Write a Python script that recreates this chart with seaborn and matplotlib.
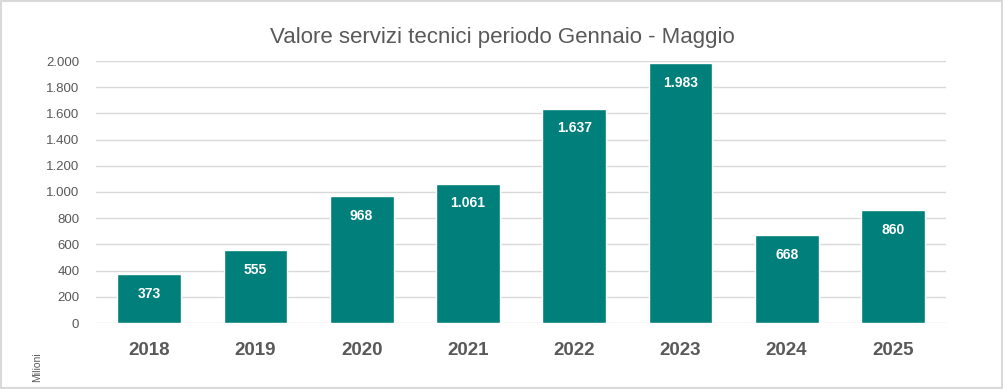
import matplotlib

matplotlib.use("Agg")

import matplotlib.pyplot as plt
import seaborn as sns
import pandas as pd
from matplotlib.patches import Rectangle
from matplotlib.ticker import FuncFormatter

years = ["2018", "2019", "2020", "2021", "2022", "2023", "2024", "2025"]
values = [373, 555, 968, 1061, 1637, 1983, 668, 860]
y_ticks = [0, 200, 400, 600, 800, 1000, 1200, 1400, 1600, 1800, 2000]

bar_color = "#007F7B"
text_gray = "#595959"


def it_fmt(v):
    return f"{int(v):,}".replace(",", ".")


sns.set_style("white")
plt.rcParams["font.family"] = ["Liberation Sans", "DejaVu Sans"]

df = pd.DataFrame({"anno": years, "valore": values})

fig = plt.figure(figsize=(10.04, 3.89), dpi=100)
ax = fig.add_axes([96 / 1004, 1 - 323 / 389, (946 - 96) / 1004, (323 - 61) / 389])

sns.barplot(data=df, x="anno", y="valore", color=bar_color, width=0.6,
            saturation=1, ax=ax, zorder=3)

ax.set_ylim(0, 2000)
ax.set_yticks(y_ticks)
ax.yaxis.set_major_formatter(FuncFormatter(lambda v, p: it_fmt(v)))
ax.grid(axis="y", color="#D9D9D9", linewidth=1, zorder=0)
ax.set_axisbelow(True)
for s in ax.spines.values():
    s.set_visible(False)
ax.tick_params(axis="y", length=0, pad=12, labelsize=9.5, labelcolor=text_gray)
ax.tick_params(axis="x", length=0, pad=14, labelsize=13.5, labelcolor=text_gray)
for lbl in ax.get_xticklabels():
    lbl.set_fontweight("bold")
ax.set_xlabel("")
ax.set_ylabel("")

# etichette valore dentro le barre
for i, v in enumerate(values):
    ax.annotate(it_fmt(v), (i, v), xytext=(0, -14), textcoords="offset points",
                ha="center", va="center", color="white", fontsize=10,
                fontweight="bold")

fig.suptitle("Valore servizi tecnici periodo Gennaio - Maggio", x=0.5, y=1 - 38 / 389,
             fontsize=16, color=text_gray, va="center")
fig.text(37 / 1004, 1 - 367 / 389, "Milioni", rotation=90, ha="center",
         va="center", fontsize=7.5, color=text_gray)

fig.patches.append(Rectangle((0.001, 0.003), 0.997, 0.994, transform=fig.transFigure,
                             fill=False, edgecolor="#D9D9D9", linewidth=1.5))

fig.savefig("out.png", dpi=100)
plt.close(fig)
